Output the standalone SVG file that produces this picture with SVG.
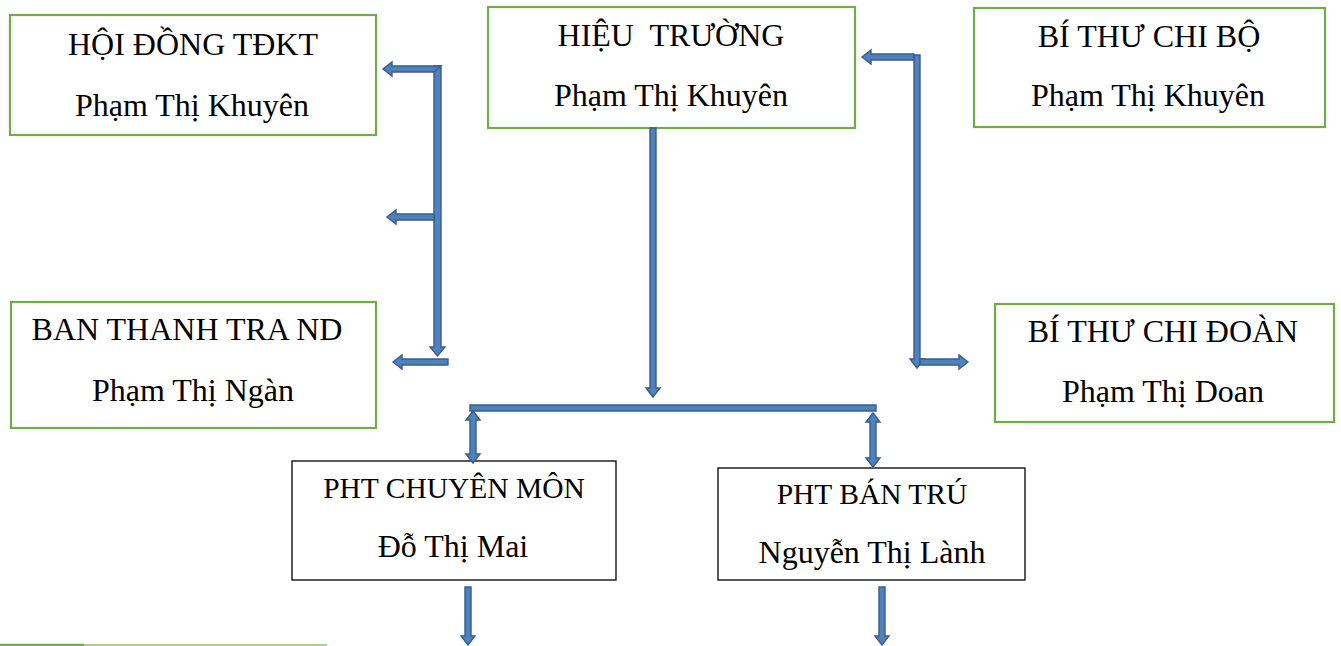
<svg xmlns="http://www.w3.org/2000/svg" width="1341" height="646" viewBox="0 0 1341 646">
<style>
.g{fill:#fff;stroke:#70AD47;stroke-width:2.2}
.k{fill:#fff;stroke:#000;stroke-width:1.3}
.a{fill:#4F81BD;stroke:#385D8A;stroke-width:1.4;stroke-linejoin:miter}
text{font-family:"Liberation Serif","Times New Roman",serif;fill:#000;text-anchor:middle}
.t{font-size:32px}
.s{font-size:29.5px}
</style>
<rect width="1341" height="646" fill="#fff"/>
<g id="hoi-dong">
<rect class="g" x="10" y="15" width="366" height="120"/>
<text class="t" x="193" y="55">HỘI ĐỒNG TĐKT</text>
<text class="t" x="192" y="116">Phạm Thị Khuyên</text>
</g>
<g id="hieu-truong">
<rect class="g" x="488" y="7" width="367" height="121"/>
<text class="t" x="671" y="46" xml:space="preserve">HIỆU  TRƯỜNG</text>
<text class="t" x="671" y="106">Phạm Thị Khuyên</text>
</g>
<g id="bi-thu-chi-bo">
<rect class="g" x="974" y="8" width="351" height="119"/>
<text class="t" x="1149" y="47">BÍ THƯ CHI BỘ</text>
<text class="t" x="1148" y="106">Phạm Thị Khuyên</text>
</g>
<g id="ban-thanh-tra">
<rect class="g" x="11" y="302" width="365" height="126"/>
<text class="t" x="187" y="340">BAN THANH TRA ND</text>
<text class="t" x="193" y="401">Phạm Thị Ngàn</text>
</g>
<g id="bi-thu-chi-doan">
<rect class="g" x="995" y="304" width="339" height="118"/>
<text class="t" x="1163" y="342">BÍ THƯ CHI ĐOÀN</text>
<text class="t" x="1163" y="402">Phạm Thị Doan</text>
</g>
<g id="pht-chuyen-mon">
<rect class="k" x="292" y="461" width="324" height="119"/>
<text class="s" x="454" y="498">PHT CHUYÊN MÔN</text>
<text class="t" x="453" y="557">Đỗ Thị Mai</text>
</g>
<g id="pht-ban-tru">
<rect class="k" x="718" y="468" width="307" height="112"/>
<text class="s" x="872" y="504">PHT BÁN TRÚ</text>
<text class="t" x="872" y="563">Nguyễn Thị Lành</text>
</g>
<g id="connectors">
<polygon class="a" points="434,66 441,66 441,347 445,347 437.5,356 430,347 434,347"/>
<polygon class="a" points="441,66 392,66 392,62 383,69 392,76 392,72 434,72"/>
<polygon class="a" points="434,214 396,214 396,210 387,217 396,224 396,220 434,220"/>
<polygon class="a" points="448,359 402,359 402,355 393,362 402,369 402,365 448,365"/>
<polygon class="a" points="914,54 871,54 871,50 862,57 871,64 871,60 914,60"/>
<polygon class="a" points="914,55 920,55 920,359 924,359 917,368 910,359 914,359"/>
<polygon class="a" points="920,359 959,359 959,355 968,362 959,369 959,365 920,365"/>
<polygon class="a" points="650,128 656,128 656,388 660,388 653,397 646,388 650,388"/>
<polygon class="a" points="470,405 876,405 876,411 470,411"/>
<polygon class="a" points="470,420 466,420 473,411 480,420 476,420 476,454 480,454 473,463 466,454 470,454"/>
<polygon class="a" points="870,422 866,422 873,413 880,422 876,422 876,458 880,458 873,467 866,458 870,458"/>
<polygon class="a" points="465,587 471,587 471,636 475,636 468,645 461,636 465,636"/>
<polygon class="a" points="879,587 885,587 885,636 889,636 882,645 875,636 879,636"/>
</g>
<line x1="84" y1="645" x2="327" y2="645" stroke="#A9D18E" stroke-width="2"/>
<line x1="0" y1="645" x2="84" y2="645" stroke="#70AD47" stroke-width="2.5"/>
</svg>
